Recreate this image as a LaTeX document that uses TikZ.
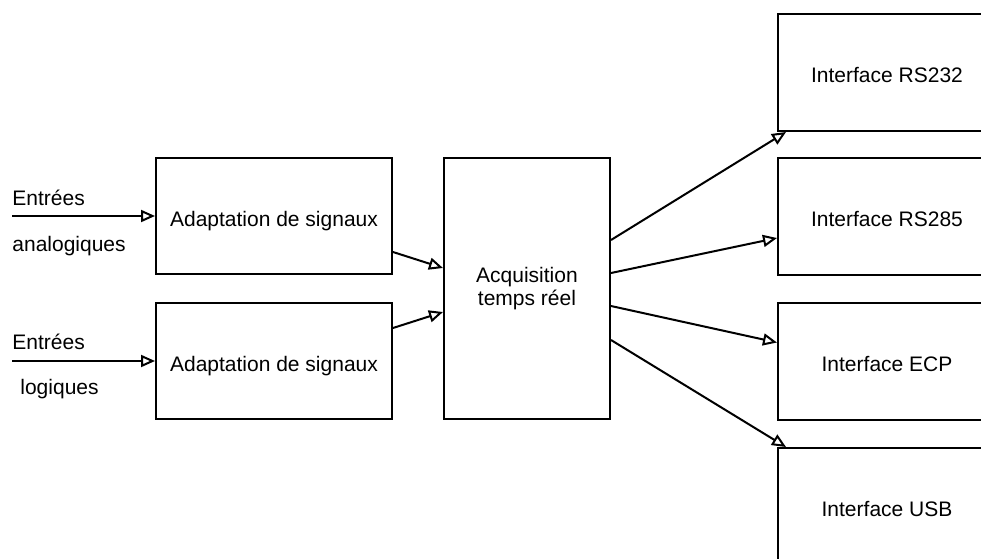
\documentclass[tikz,border=0pt]{standalone}
\usepackage{fontspec}
\setmainfont{Liberation Sans}
\usetikzlibrary{positioning, arrows.meta}

\tikzset{
  frame/.style={draw, rectangle, line width=1pt, inner sep=0pt},
  block/.style={frame, text height=10pt, text depth=0pt, minimum width=118pt, minimum height=58pt},
  iface/.style={block, minimum width=109pt, minimum height=58.5pt},
  lbl/.style={anchor=west, inner sep=0pt},
  link/.style={line width=1pt, -{Triangle[open, length=7pt, width=6pt, line width=1pt]}}
}

\begin{document}
\begin{tikzpicture}[x=0.5pt, y=-0.5pt, font=\fontsize{10.5}{11.25}\selectfont]
			\useasboundingbox (0,0) rectangle (981,558);
			\clip (0,0) rectangle (981,558);
			% input side
			\node (adapta) [block] at (274,216) {Adaptation de signaux};
			\node (adaptl) [block, below=13.5pt of adapta] {Adaptation de signaux};
			\node (acq) [frame, minimum width=83pt, minimum height=130.5pt, align=center] at (527,288.5) {Acquisition\\temps réel};
			\coordinate (ina) at (12,216);
			\coordinate (inl) at (12,361);
			\node (ea) [lbl] at (12,198) {Entrées};
			\node (ana) [lbl] at (12,246) {analogiques};
			\node (el) [lbl] at (12,342) {Entrées};
			\node (logi) [lbl] at (20,389) {logiques};
			% output side
			\node (rs232) [iface] at (887,72.5) {Interface RS232};
			\node (rs285) [iface, below=12.5pt of rs232] {Interface RS285};
			\node (ecp) [iface, below=13pt of rs285] {Interface ECP};
			\node (usb) [iface, below=13pt of ecp] {Interface USB};
			\draw [link] (ina) -- (adapta);
			\draw [link] (inl) -- (adaptl);
			\draw [link] ([yshift=-18pt]adapta.east) -- ([yshift=10.25pt]acq.west);
			\draw [link] ([yshift=16.5pt]adaptl.east) -- ([yshift=-11.75pt]acq.west);
			\draw [link] ([yshift=24.25pt]acq.east) -- ([xshift=4.5pt]rs232.south west);
			\draw [link] ([yshift=7.75pt]acq.east) -- ([yshift=-10.75pt]rs285.west);
			\draw [link] ([yshift=-8.75pt]acq.east) -- ([yshift=9.5pt]ecp.west);
			\draw [link] ([yshift=-25.75pt]acq.east) -- ([xshift=4.5pt]usb.north west);
		\end{tikzpicture}
\end{document}
